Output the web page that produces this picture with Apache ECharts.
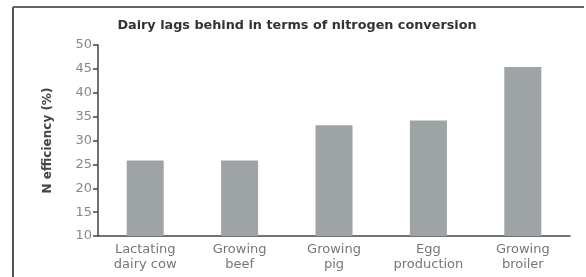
<!DOCTYPE html>
<html>
<head>
<meta charset="utf-8">
<script src="https://cdn.jsdelivr.net/npm/echarts@6/dist/echarts.min.js"></script>
<style>
  html, body { margin: 0; padding: 0; background: #fff; }
  #main { width: 586px; height: 277px; }
</style>
</head>
<body>
<div id="main"></div>
<script type="text/javascript">
    // data
    var categories = ['Lactating\ndairy cow', 'Growing\nbeef', 'Growing\npig', 'Egg\nproduction', 'Growing\nbroiler'];
    var efficiency = [25.8, 25.8, 33.2, 34.2, 45.4];
    var yTicks = [10, 15, 20, 25, 30, 35, 40, 45, 50];

    var myChart = echarts.init(document.getElementById('main'));

    var option = {
        backgroundColor: '#fff',
        animation: false,
        title: {
            text: 'Dairy lags behind in terms of nitrogen conversion',
            left: 292,
            top: 14,
            textAlign: 'center',
            textStyle: { fontFamily: 'DejaVu Sans', fontSize: 12.8, fontWeight: 'bold', color: '#333' }
        },
        graphic: [
            { type: 'line', shape: { x1: 13, y1: 7, x2: 584, y2: 7 }, style: { stroke: '#666', lineWidth: 2 } },
            { type: 'line', shape: { x1: 13, y1: 7, x2: 13, y2: 277 }, style: { stroke: '#555', lineWidth: 2 } }
        ],
        grid: { left: 98, right: 16, top: 45, bottom: 41 },
        xAxis: {
            type: 'category',
            data: categories,
            axisLine: { lineStyle: { color: '#444', width: 1.5 } },
            axisTick: { length: 6, lineStyle: { color: '#444', width: 1.5 } },
            axisLabel: { color: '#777', fontFamily: 'DejaVu Sans', fontSize: 13, lineHeight: 15, margin: 6 }
        },
        yAxis: {
            type: 'value',
            min: yTicks[0],
            max: yTicks[yTicks.length - 1],
            interval: 5,
            name: 'N efficiency (%)',
            nameLocation: 'middle',
            nameGap: 44,
            nameTextStyle: { color: '#444', fontFamily: 'DejaVu Sans', fontSize: 12, fontWeight: 'bold' },
            splitLine: { show: false },
            axisLine: { show: true, lineStyle: { color: '#444', width: 1.5 } },
            axisTick: { show: true, length: 5, lineStyle: { color: '#444', width: 1.5 } },
            axisLabel: { color: '#888', fontFamily: 'DejaVu Sans', fontSize: 13, margin: 6 }
        },
        series: [{
            type: 'bar',
            data: efficiency,
            barWidth: 37,
            itemStyle: { color: '#9ea3a5' }
        }]
    };

    myChart.setOption(option);
</script>
</body>
</html>
